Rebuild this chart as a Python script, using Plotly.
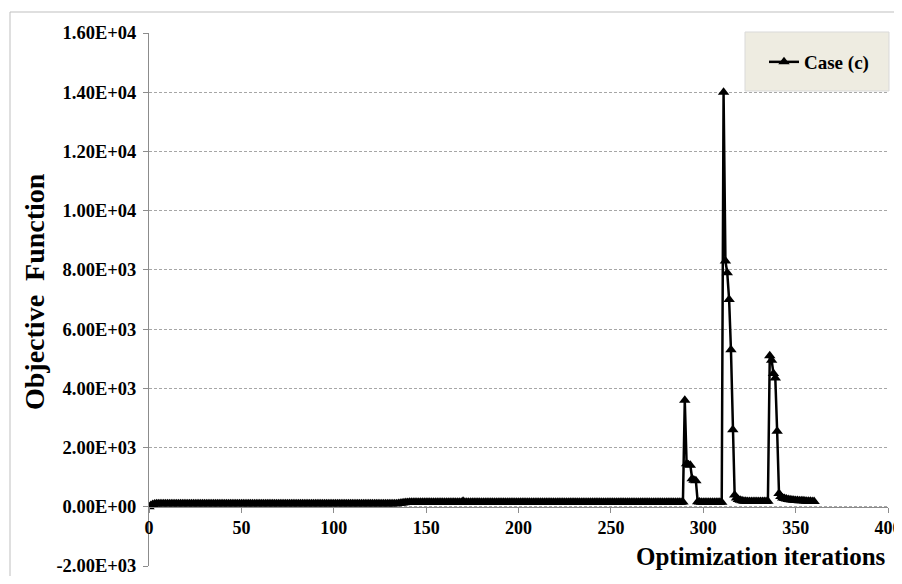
import plotly.graph_objects as go

# ---------------- data ----------------
series_name = "Case (c)"

obj_part_a = [  # iterations 0-139
    0, 45, 80, 95, 100, 102, 100, 101, 103, 100,
    101, 102, 100, 103, 101, 100, 102, 104, 101, 100,
    102, 101, 103, 100, 101, 102, 100, 101, 103, 102,
    100, 101, 102, 104, 101, 100, 102, 101, 100, 103,
    101, 102, 100, 101, 103, 102, 100, 101, 102, 101,
    103, 100, 101, 102, 100, 104, 101, 102, 100, 101,
    102, 101, 103, 100, 101, 102, 101, 100, 102, 103,
    101, 100, 102, 101, 103, 100, 101, 102, 100, 101,
    102, 103, 101, 100, 102, 101, 100, 103, 101, 102,
    100, 101, 102, 100, 103, 101, 102, 100, 101, 102,
    103, 101, 100, 102, 101, 100, 102, 104, 101, 100,
    102, 101, 103, 100, 101, 102, 100, 101, 103, 102,
    101, 100, 102, 101, 103, 100, 101, 102, 100, 101,
    102, 101, 100, 103, 105, 110, 118, 125, 135, 142,
]
obj_part_b = [  # iterations 140-289
    148, 150, 152, 150, 151, 153, 150, 152, 151, 150,
    152, 151, 150, 153, 152, 150, 151, 152, 150, 153,
    151, 150, 152, 151, 150, 152, 153, 151, 150, 152,
    190, 152, 150, 151, 153, 150, 152, 151, 150, 152,
    151, 153, 150, 152, 151, 150, 152, 153, 151, 150,
    152, 151, 150, 153, 152, 150, 151, 152, 150, 151,
    153, 150, 152, 151, 150, 152, 151, 153, 150, 152,
    151, 150, 152, 153, 151, 150, 152, 151, 150, 153,
    152, 150, 151, 152, 150, 151, 153, 150, 152, 151,
    150, 152, 151, 153, 150, 152, 151, 150, 152, 153,
    151, 150, 152, 151, 150, 153, 152, 150, 151, 152,
    150, 151, 153, 150, 152, 151, 150, 152, 153, 151,
    150, 152, 151, 150, 153, 152, 150, 151, 152, 150,
    151, 153, 150, 152, 151, 150, 152, 151, 153, 150,
    152, 151, 150, 152, 153, 151, 150, 152, 151, 160,
]
obj_part_c = [  # iterations 290-360
    3600, 1450, 1420, 1400, 950, 900, 880, 170, 160, 155,
    152, 150, 151, 153, 150, 152, 151, 150, 152, 151,
    155, 14000, 8300, 7900, 7000, 5300, 2600, 400, 300, 250,
    220, 200, 190, 185, 180, 182, 180, 178, 180, 181,
    180, 179, 180, 182, 180, 185, 5100, 4950, 4500, 4350,
    2550, 450, 350, 300, 280, 260, 250, 240, 230, 220,
    215, 210, 205, 200, 200, 195, 190, 190, 185, 180,
    175,
]
objective = obj_part_a + obj_part_b + obj_part_c
iterations = list(range(len(objective)))

y_tick_vals = [-2000, 0, 2000, 4000, 6000, 8000, 10000, 12000, 14000, 16000]
y_tick_text = ["-2.00E+03", "0.00E+00", "2.00E+03", "4.00E+03", "6.00E+03",
               "8.00E+03", "1.00E+04", "1.20E+04", "1.40E+04", "1.60E+04"]
x_tick_vals = [0, 50, 100, 150, 200, 250, 300, 350, 400]

x_title = "Optimization iterations"
y_title = "Objective  Function"

# ---------------- figure ----------------
FONT = "Liberation Serif, Times New Roman, serif"
OFF = 8                      # page body margin in the browser
W, H = 902 - OFF, 584 - 2 * OFF   # keep the page free of scrollbars
# plot area in screen pixels: x 149..888, y 33..566
ML, MR, MT = 149 - OFF, 902 - 888, 33 - OFF
MB = H - (566 - OFF)
PW, PH = W - ML - MR, H - MT - MB


def px_x(p):  # screen px -> paper fraction
    return (p - OFF - ML) / PW


def px_y(p):
    return (H - MB - (p - OFF)) / PH


y_min, y_max = -2000, 16000

fig = go.Figure()
fig.add_trace(go.Scatter(
    x=iterations, y=objective, mode="lines+markers", name=series_name,
    line=dict(color="black", width=2.5),
    marker=dict(symbol="triangle-up", size=10, color="black"),
))

fig.update_layout(
    width=W, height=H,
    margin=dict(l=ML, r=MR, t=MT, b=MB, autoexpand=False),
    paper_bgcolor="white", plot_bgcolor="white",
    font=dict(family=FONT, color="black"),
    showlegend=True,
    legend=dict(
        x=px_x(764), y=px_y(62), xanchor="left", yanchor="middle",
        bgcolor="rgba(0,0,0,0)", borderwidth=0,
        font=dict(family=FONT, size=19, weight="bold", color="black"),
    ),
    xaxis=dict(
        range=[0, 400], tickvals=x_tick_vals,
        anchor="free", position=(0 - y_min) / (y_max - y_min),
        showline=True, linecolor="#8c8c8c", linewidth=1,
        ticks="outside", ticklen=5, tickcolor="#8c8c8c",
        showgrid=False, zeroline=False, automargin=False,
        ticklabeloverflow="allow",
        tickfont=dict(family=FONT, size=18, weight="bold", color="black"),
    ),
    yaxis=dict(
        range=[y_min, y_max], tickvals=y_tick_vals, ticktext=y_tick_text,
        showline=True, linecolor="#8c8c8c", linewidth=1,
        ticks="outside", ticklen=5, tickcolor="#8c8c8c",
        showgrid=True, gridcolor="#a6a6a6", griddash="3px,2px", gridwidth=1,
        zeroline=False, automargin=False, ticklabelstandoff=3,
        ticklabeloverflow="allow",
        tickfont=dict(family=FONT, size=18.5, weight="bold", color="black"),
    ),
)

# outer chart border
fig.add_shape(type="rect", xref="paper", yref="paper",
              x0=px_x(10), x1=px_x(910), y0=px_y(600), y1=px_y(12),
              line=dict(color="#bfbfbf", width=1), fillcolor="rgba(0,0,0,0)",
              layer="below")
# legend box
fig.add_shape(type="rect", xref="paper", yref="paper",
              x0=px_x(745), x1=px_x(889), y0=px_y(91), y1=px_y(32),
              line=dict(color="#d9d9d9", width=1), fillcolor="#EEECE1",
              layer="above")

fig.add_annotation(text=x_title, xref="paper", yref="paper",
                   x=px_x(888), y=px_y(556), xanchor="right", yanchor="middle",
                   showarrow=False,
                   font=dict(family=FONT, size=25, weight="bold", color="black"))
fig.add_annotation(text=y_title, xref="paper", yref="paper",
                   x=px_x(34), y=px_y(292), xanchor="center", yanchor="middle",
                   textangle=-90, showarrow=False,
                   font=dict(family=FONT, size=28, weight="bold", color="black"))

fig.write_html("out.html", default_width=f"{W}px", default_height=f"{H}px")
